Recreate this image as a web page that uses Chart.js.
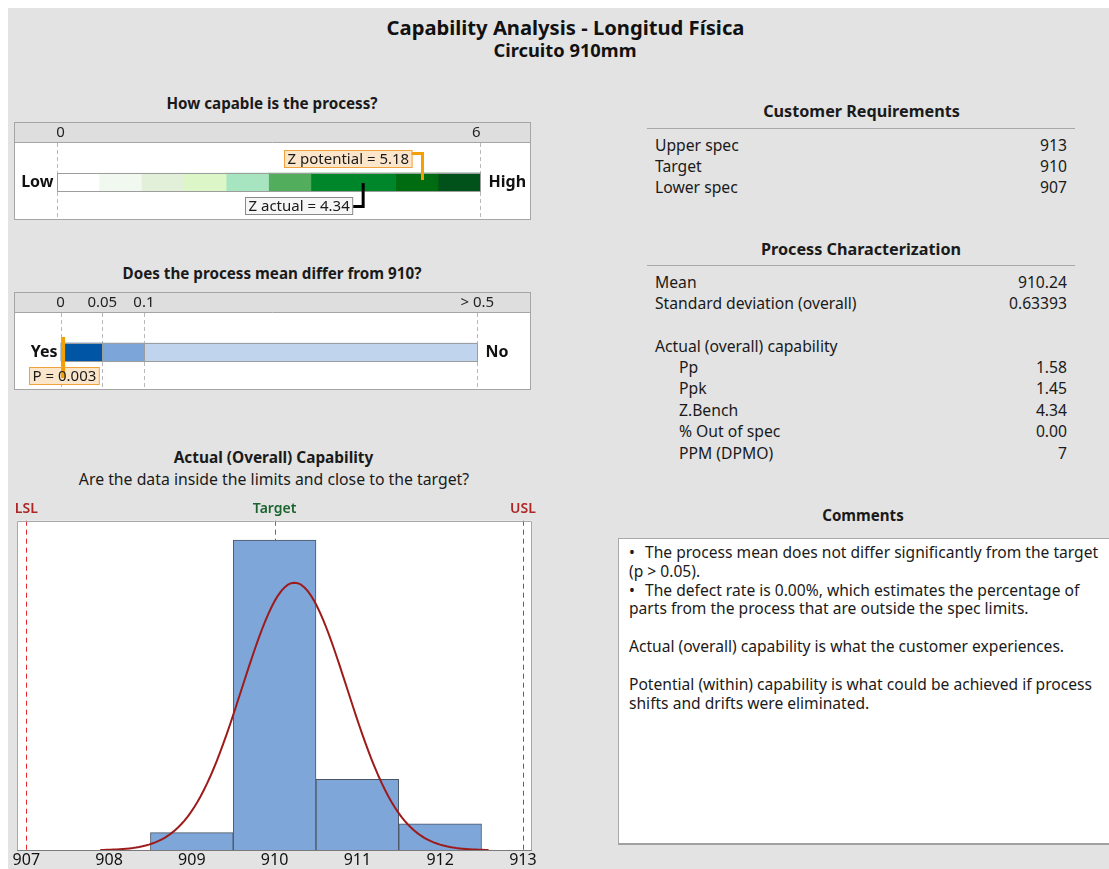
<!DOCTYPE html>
<html>
<head>
<meta charset="utf-8">
<script src="https://cdn.jsdelivr.net/npm/chart.js@4.4.1/dist/chart.umd.min.js"></script>
<style>
  html, body { margin: 0; padding: 0; background: #ffffff; width: 1109px; height: 869px; overflow: hidden; }
  #sheet { position: absolute; left: 8px; top: 8px; width: 1101px; height: 861px; background: #e3e3e3; }
  .t { position: absolute; white-space: nowrap; color: #1a1a1a; font-family: 'Noto Sans', sans-serif; }
  canvas { position: absolute; }
  #comments { position: absolute; left: 618px; top: 538px; width: 491px; height: 307px; background: #ffffff;
              border-left: 1px solid #a8a8a8; border-top: 1px solid #a8a8a8; border-bottom: 2px solid #a0a0a0; box-sizing: border-box; }
  .rule { position: absolute; height: 1px; background: #a8a8a8; }
</style>
</head>
<body>
<div id="sheet"></div>
<div id="comments"></div>
<div class="rule" style="left:647px; top:128px; width:428px;"></div>
<div class="rule" style="left:647px; top:265px; width:428px;"></div>
<canvas id="zGauge" width="517" height="98" style="left:14px; top:122px;"></canvas>
<canvas id="pGauge" width="517" height="98" style="left:14px; top:292px;"></canvas>
<canvas id="hist" width="545" height="374" style="left:0px; top:495px;"></canvas>
<script>
// ---- report values ----
const lowerSpec = 907;
const targetSpec = 910;
const upperSpec = 913;
const sampleMean = 910.24;
const sampleSd = 0.63393;

// Z capability gauge (0..6 in ten bands)
const zBandEdges = [0, 0.6, 1.2, 1.8, 2.4, 3.0, 3.6, 4.2, 4.8, 5.4, 6.0];
const zBandColors = ['#ffffff', '#f1f8ef', '#e3f0d9', '#dcf6c7', '#a7e4c0', '#52ae5d', '#00862a', '#00862a', '#006c12', '#00511a'];
const zTicks = [0, 6];
const zTickText = ['0', '6'];
const zPotential = 5.18;
const zActual = 4.34;

// mean-difference p-value gauge
const pBandEdges = [0, 0.05, 0.1, 0.5];
const pBandColors = ['#0055a5', '#7ca6d9', '#c0d4ee'];
const pTicks = [0, 0.05, 0.1, 0.5];
const pTickText = ['0', '0.05', '0.1', '> 0.5'];
const pValue = 0.003;

// histogram of the measurements (bin centres, counts)
const binCenters = [909, 910, 911, 912];
const binCounts = [2, 35, 8, 3];
const xTicks = [907, 908, 909, 910, 911, 912, 913];

// summary tables
const requirementRows = [['Upper spec', '913'], ['Target', '910'], ['Lower spec', '907']];
const characterRows = [['Mean', '910.24'], ['Standard deviation (overall)', '0.63393']];
const capabilityRows = [['Pp', '1.58'], ['Ppk', '1.45'], ['Z.Bench', '4.34'], ['% Out of spec', '0.00'], ['PPM (DPMO)', '7']];

const commentLines = [
  ['\u2022', 'The process mean does not differ significantly from the target'],
  ['', '(p > 0.05).'],
  ['\u2022', 'The defect rate is 0.00%, which estimates the percentage of'],
  ['', 'parts from the process that are outside the spec limits.'],
  ['', ''],
  ['', 'Actual (overall) capability is what the customer experiences.'],
  ['', ''],
  ['', 'Potential (within) capability is what could be achieved if process'],
  ['', 'shifts and drifts were eliminated.']
];

const FONT = "'Noto Sans', sans-serif";

// ---- HTML text helpers ----
function addText(str, x, cy, opt) {
  opt = opt || {};
  const size = opt.size || 15.7;
  const lh = Math.round(size * 1.4);
  const d = document.createElement('div');
  d.className = 't';
  d.textContent = str;
  d.style.fontSize = size + 'px';
  d.style.lineHeight = lh + 'px';
  d.style.fontWeight = opt.weight || 400;
  if (opt.color) d.style.color = opt.color;
  d.style.top = (cy - lh / 2) + 'px';
  d.style.left = x + 'px';
  if (opt.align === 'center') d.style.transform = 'translateX(-50%)';
  if (opt.align === 'right') d.style.transform = 'translateX(-100%)';
  document.body.appendChild(d);
}

addText('Capability Analysis - Longitud F\u00edsica', 565.5, 26.5, { size: 20.2, weight: 700, align: 'center', color: '#111' });
addText('Circuito 910mm', 565, 49.5, { size: 18.3, weight: 700, align: 'center', color: '#111' });

addText('How capable is the process?', 272, 103, { size: 15.2, weight: 700, align: 'center' });
addText('Does the process mean differ from 910?', 272, 273, { size: 15.2, weight: 700, align: 'center' });
addText('Actual (Overall) Capability', 273.5, 458, { size: 15.4, weight: 700, align: 'center' });
addText('Are the data inside the limits and close to the target?', 274, 479, { size: 15.8, align: 'center' });

addText('Customer Requirements', 861.5, 111, { size: 16.2, weight: 700, align: 'center' });
requirementRows.forEach((r, i) => {
  const cy = 145 + i * 21.2;
  addText(r[0], 655, cy);
  addText(r[1], 1067, cy, { align: 'right' });
});

addText('Process Characterization', 861, 249, { size: 16.2, weight: 700, align: 'center' });
characterRows.forEach((r, i) => {
  const cy = 282.3 + i * 21;
  addText(r[0], 655, cy);
  addText(r[1], 1067, cy, { align: 'right' });
});
addText('Actual (overall) capability', 655, 346);
capabilityRows.forEach((r, i) => {
  const cy = 366.7 + i * 21.5;
  addText(r[0], 679, cy);
  addText(r[1], 1067, cy, { align: 'right' });
});

addText('Comments', 863, 515, { size: 15.1, weight: 700, align: 'center' });
commentLines.forEach((l, i) => {
  const cy = 551.7 + i * 18.9;
  if (l[0]) {
    addText(l[0], 629, cy, { size: 15.6 });
    addText(l[1], 645, cy, { size: 15.6 });
  } else if (l[1]) {
    addText(l[1], 629, cy, { size: 15.6 });
  }
});

// ---- gauge frame: grey header with tick labels, dashed guides, side captions ----
const gaugeFrame = {
  id: 'gaugeFrame',
  beforeDraw(chart, args, o) {
    const { ctx, width, height } = chart;
    const x = chart.scales.x;
    ctx.save();
    ctx.fillStyle = '#ffffff';
    ctx.fillRect(0, 0, width, height);
    ctx.fillStyle = '#dedede';
    ctx.fillRect(0, 0, width, 20);
    ctx.strokeStyle = '#a5a5a5';
    ctx.lineWidth = 1;
    ctx.beginPath(); ctx.moveTo(0, 20.5); ctx.lineTo(width, 20.5); ctx.stroke();
    ctx.strokeRect(0.5, 0.5, width - 1, height - 1);
    ctx.fillStyle = '#222';
    ctx.font = '15px ' + FONT;
    ctx.textAlign = 'center';
    ctx.textBaseline = 'middle';
    o.ticks.forEach((v, i) => ctx.fillText(o.tickText[i], x.getPixelForValue(v) + (o.labelShift ? o.labelShift[i] : 0), 10.5));
    ctx.setLineDash([4, 3]);
    ctx.strokeStyle = '#b8b8b8';
    o.ticks.forEach(v => {
      const px = Math.round(x.getPixelForValue(v)) + 0.5;
      ctx.beginPath(); ctx.moveTo(px, 21); ctx.lineTo(px, height - 1); ctx.stroke();
    });
    ctx.restore();
  },
  afterDatasetsDraw(chart, args, o) {
    const { ctx } = chart;
    const x = chart.scales.x;
    const bar = chart.getDatasetMeta(0).data[0];
    const cy = bar.y;
    const h = bar.height;
    ctx.save();
    ctx.strokeStyle = '#9d9d9d';
    ctx.lineWidth = 1;
    const x0 = Math.round(x.getPixelForValue(o.ticks[0])) + 0.5;
    const x1 = Math.round(x.getPixelForValue(o.ticks[o.ticks.length - 1])) + 0.5;
    ctx.strokeRect(x0, Math.round(cy - h / 2) + 0.5, x1 - x0, Math.round(h));
    if (o.edges) {
      o.edges.forEach(v => {
        const px = Math.round(x.getPixelForValue(v)) + 0.5;
        ctx.beginPath(); ctx.moveTo(px, cy - h / 2); ctx.lineTo(px, cy + h / 2); ctx.stroke();
      });
    }
    ctx.fillStyle = '#111';
    ctx.font = 'bold 16px ' + FONT;
    ctx.textBaseline = 'middle';
    ctx.textAlign = 'right';
    ctx.fillText(o.left, x0 - 4, cy);
    ctx.textAlign = 'left';
    ctx.fillText(o.right, x1 + 8, cy);
    ctx.restore();
  }
};

// callout box with a bracket leading to a marker on the gauge
function callout(ctx, c) {
  ctx.save();
  ctx.font = '15px ' + FONT;
  const tw = ctx.measureText(c.text).width;
  const bw = tw + 6, bh = 17;
  const bx = Math.round(c.boxRight - bw) + 0.5;
  const by = Math.round(c.boxCy - bh / 2) + 0.5;
  ctx.fillStyle = c.fill;
  ctx.fillRect(bx, by, bw, bh);
  ctx.strokeStyle = c.color;
  ctx.lineWidth = c.width;
  ctx.beginPath();
  c.path.forEach((p, i) => (i ? ctx.lineTo(p[0], p[1]) : ctx.moveTo(p[0], p[1])));
  ctx.stroke();
  ctx.fillStyle = '#1a1a1a';
  ctx.textAlign = 'center';
  ctx.textBaseline = 'middle';
  ctx.fillText(c.text, bx + bw / 2, by + bh / 2 + 0.5);
  ctx.lineWidth = 1;
  ctx.strokeStyle = c.border;
  ctx.strokeRect(bx, by, bw, bh);
  ctx.restore();
}

const zMarks = {
  id: 'zMarks',
  afterDraw(chart) {
    const { ctx } = chart;
    const x = chart.scales.x;
    const cy = chart.getDatasetMeta(0).data[0].y;
    const mp = x.getPixelForValue(zPotential);
    callout(ctx, {
      text: 'Z potential = ' + zPotential.toFixed(2), boxRight: mp - 10.5, boxCy: cy - 23.5,
      fill: '#fbe6cc', border: '#f0a33a', color: '#f5a000', width: 3,
      path: [[mp - 11, cy - 28.5], [mp, cy - 28.5], [mp, cy - 2]]
    });
    const ma = x.getPixelForValue(zActual);
    callout(ctx, {
      text: 'Z actual = ' + zActual.toFixed(2), boxRight: ma - 10.5, boxCy: cy + 23,
      fill: '#f6f6f6', border: '#8a8a8a', color: '#000000', width: 3,
      path: [[ma - 10, cy + 24.5], [ma, cy + 24.5], [ma, cy + 1]]
    });
  }
};

const pMarks = {
  id: 'pMarks',
  afterDraw(chart) {
    const { ctx } = chart;
    const x = chart.scales.x;
    const cy = chart.getDatasetMeta(0).data[0].y;
    const mp = x.getPixelForValue(pValue);
    callout(ctx, {
      text: 'P = ' + pValue.toFixed(3), boxRight: mp + 35.5, boxCy: cy + 23.5,
      fill: '#fbe6cc', border: '#f0a33a', color: '#f5a000', width: 4,
      path: [[mp, cy - 15], [mp, cy + 26]]
    });
  }
};

function gaugeChart(id, edges, colors, xmin, xmax, pad, frameOpts, marks) {
  return new Chart(document.getElementById(id), {
    type: 'bar',
    data: {
      labels: [''],
      datasets: colors.map((c, i) => ({
        data: [[edges[i], edges[i + 1]]],
        backgroundColor: c,
        borderWidth: 0,
        grouped: false,
        barThickness: 18
      }))
    },
    options: {
      indexAxis: 'y',
      responsive: false,
      animation: false,
      events: [],
      layout: { padding: pad },
      scales: {
        x: { type: 'linear', min: xmin, max: xmax, display: false },
        y: { display: false }
      },
      plugins: { legend: { display: false }, tooltip: { enabled: false }, gaugeFrame: frameOpts }
    },
    plugins: [gaugeFrame, marks]
  });
}

gaugeChart('zGauge', zBandEdges, zBandColors, 0, 6,
  { left: 42.6, right: 50.6, top: 41, bottom: 19 },
  { ticks: zTicks, tickText: zTickText, labelShift: [4, -4], left: 'Low', right: 'High' }, zMarks);

gaugeChart('pGauge', pBandEdges, pBandColors, 0, 0.5,
  { left: 46.6, right: 53.7, top: 41, bottom: 19 },
  { ticks: pTicks, tickText: pTickText, left: 'Yes', right: 'No', edges: [0.05, 0.1] }, pMarks);

// ---- histogram with fitted normal curve and spec limits ----
const binWidth = 1;
const totalCount = binCounts.reduce((a, b) => a + b, 0);
const curvePts = [];
for (let i = 0; i <= 120; i++) {
  const v = sampleMean - 3.7 * sampleSd + (7.4 * sampleSd) * i / 120;
  const z = (v - sampleMean) / sampleSd;
  curvePts.push({ x: v, y: totalCount * binWidth * Math.exp(-0.5 * z * z) / (sampleSd * Math.sqrt(2 * Math.PI)) });
}

const specDecor = {
  id: 'specDecor',
  beforeDraw(chart) {
    const { ctx, chartArea: a } = chart;
    ctx.save();
    ctx.fillStyle = '#ffffff';
    ctx.fillRect(a.left, a.top, a.right - a.left, a.bottom - a.top);
    ctx.restore();
  },
  beforeDatasetsDraw(chart) {
    const { ctx, chartArea: a } = chart;
    const x = chart.scales.x;
    ctx.save();
    ctx.lineWidth = 1;
    ctx.setLineDash([5, 4]);
    ctx.strokeStyle = '#e8262b';
    [lowerSpec, upperSpec].forEach(v => {
      const px = Math.round(x.getPixelForValue(v)) + 0.5;
      ctx.beginPath(); ctx.moveTo(px, a.top); ctx.lineTo(px, a.bottom); ctx.stroke();
    });
    ctx.strokeStyle = '#1f9a3a';
    const tx = Math.round(x.getPixelForValue(targetSpec)) + 0.5;
    ctx.beginPath(); ctx.moveTo(tx, a.top); ctx.lineTo(tx, a.bottom); ctx.stroke();
    ctx.setLineDash([]);
    ctx.font = '600 14px ' + FONT;
    ctx.textAlign = 'center';
    ctx.textBaseline = 'middle';
    ctx.fillStyle = '#ae2626';
    ctx.fillText('LSL', x.getPixelForValue(lowerSpec), a.top - 12);
    ctx.fillText('USL', x.getPixelForValue(upperSpec), a.top - 12);
    ctx.fillStyle = '#1b6430';
    ctx.fillText('Target', x.getPixelForValue(targetSpec), a.top - 12);
    ctx.restore();
  },
  afterDraw(chart) {
    const { ctx, chartArea: a } = chart;
    ctx.save();
    ctx.strokeStyle = '#a8a8a8';
    ctx.lineWidth = 1;
    ctx.beginPath();
    ctx.moveTo(Math.round(a.left) + 0.5, Math.round(a.bottom));
    ctx.lineTo(Math.round(a.left) + 0.5, Math.round(a.top) + 0.5);
    ctx.lineTo(Math.round(a.right) - 0.5, Math.round(a.top) + 0.5);
    ctx.lineTo(Math.round(a.right) - 0.5, Math.round(a.bottom));
    ctx.stroke();
    ctx.strokeStyle = '#7a7a7a';
    ctx.beginPath();
    ctx.moveTo(a.left, Math.round(a.bottom) + 0.5);
    ctx.lineTo(a.right, Math.round(a.bottom) + 0.5);
    ctx.stroke();
    ctx.restore();
  }
};

new Chart(document.getElementById('hist'), {
  type: 'bar',
  data: {
    datasets: [
      {
        type: 'line',
        data: curvePts,
        borderColor: '#9e1b1b',
        borderWidth: 2,
        pointRadius: 0,
        tension: 0,
        fill: false,
        order: 0
      },
      {
        type: 'bar',
        data: binCenters.map((c, i) => ({ x: c, y: binCounts[i] })),
        backgroundColor: '#7ea6d8',
        borderColor: '#4a5563',
        borderWidth: 1,
        barPercentage: 1,
        categoryPercentage: 1,
        order: 1
      }
    ]
  },
  options: {
    responsive: false,
    animation: false,
    events: [],
    layout: { padding: { left: 17.2, right: 13, top: 25.7, bottom: 0 } },
    scales: {
      x: {
        type: 'linear',
        offset: false,
        min: 906.89,
        max: 913.11,
        afterBuildTicks: s => { s.ticks = xTicks.map(v => ({ value: v })); },
        afterFit: s => { s.height = 18.7; },
        grid: { display: false, drawTicks: false, offset: false },
        border: { display: false },
        ticks: { padding: 1, maxRotation: 0, autoSkip: false, color: '#111', font: { family: FONT, size: 16 } }
      },
      y: { min: 0, max: 37.2, display: false }
    },
    plugins: { legend: { display: false }, tooltip: { enabled: false } }
  },
  plugins: [specDecor]
});
</script>
</body>
</html>
